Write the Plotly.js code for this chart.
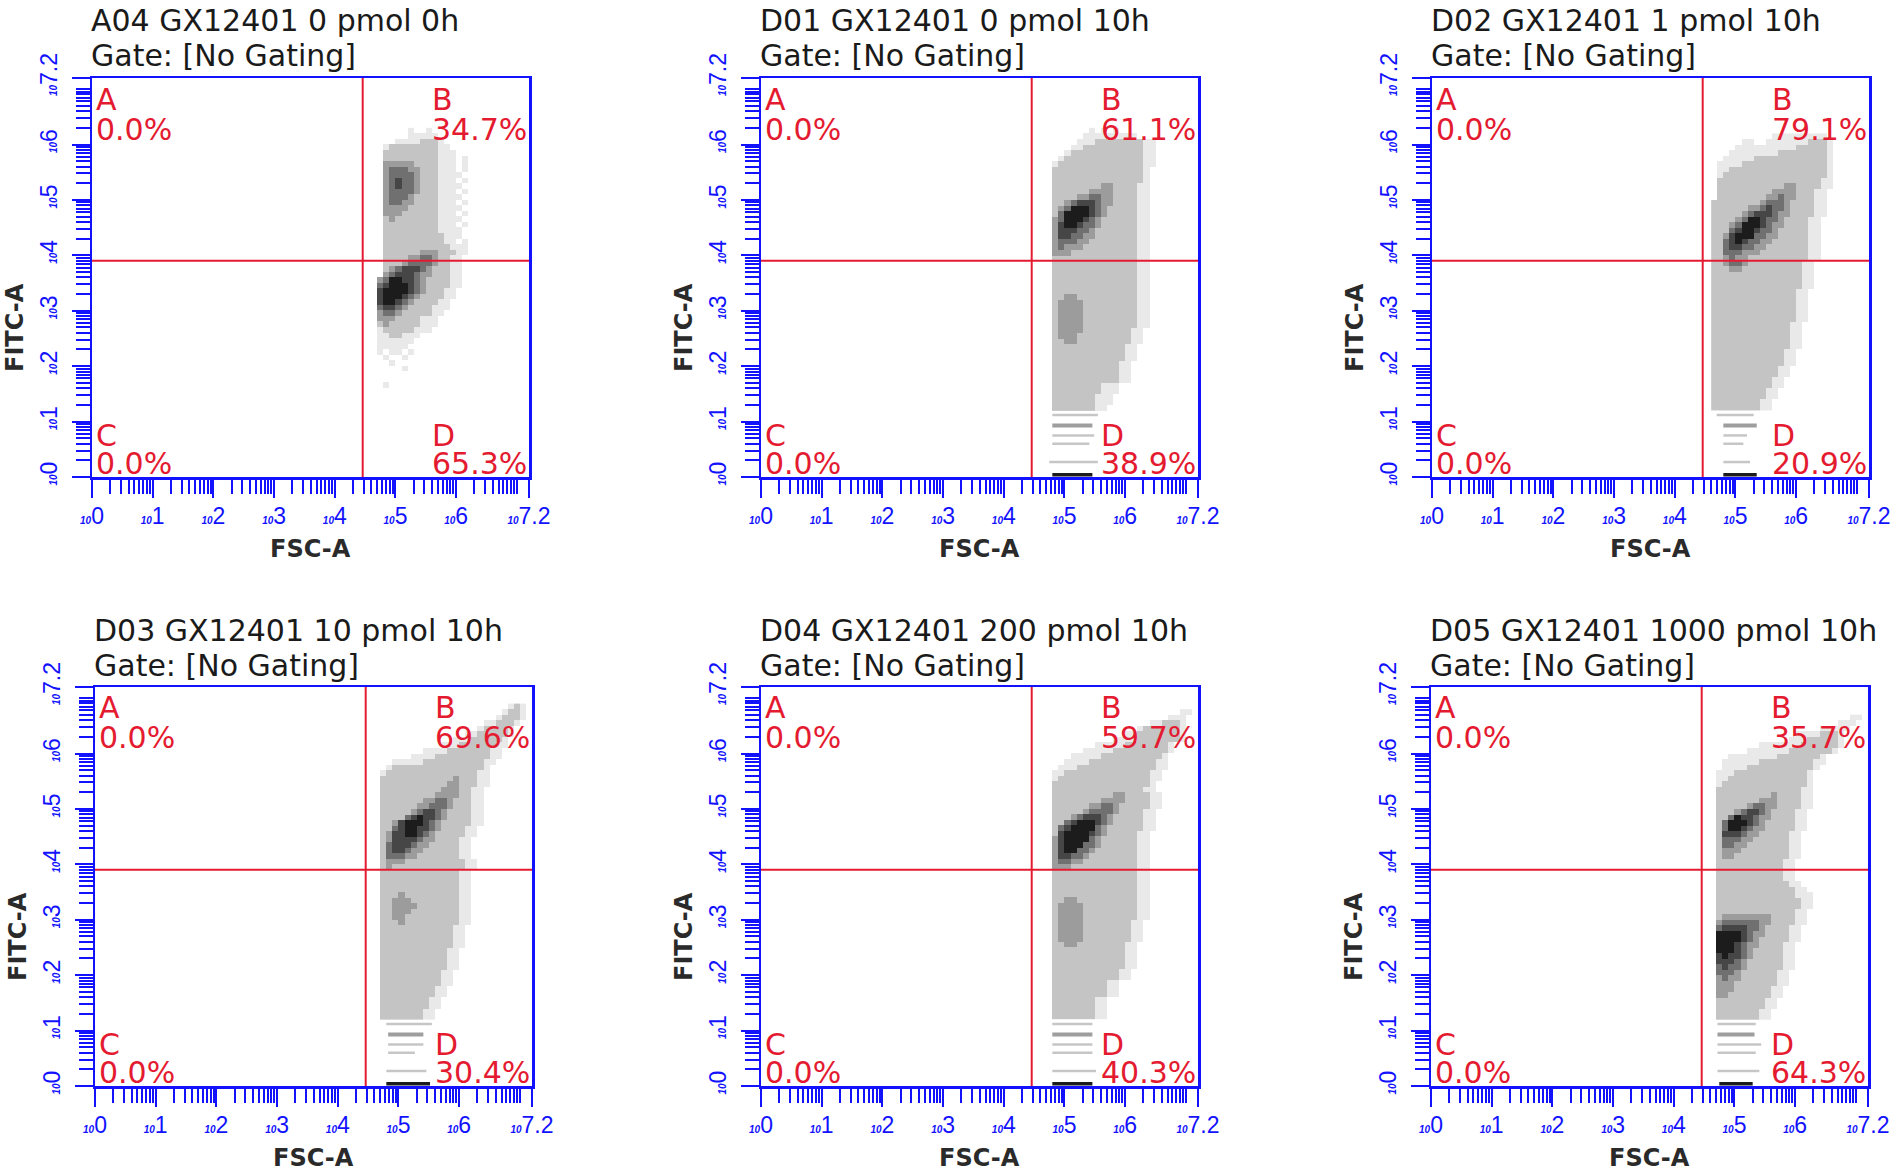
<!DOCTYPE html>
<html><head><meta charset="utf-8">
<script src="https://cdn.plot.ly/plotly-3.0.1.min.js"></script>
<style>html,body{margin:0;padding:0;background:#fff}#chart{width:1901px;height:1173px}</style>
</head><body><div id="chart"></div>
<script>
// ---------------- data ----------------
const sampleTitles = ["A04 GX12401 0 pmol 0h", "D01 GX12401 0 pmol 10h", "D02 GX12401 1 pmol 10h",
  "D03 GX12401 10 pmol 10h", "D04 GX12401 200 pmol 10h", "D05 GX12401 1000 pmol 10h"];
const gateText = "Gate: [No Gating]";
const quadLetters = ["A", "B", "C", "D"];
const pctA = [0.0, 0.0, 0.0, 0.0, 0.0, 0.0];
const pctB = [34.7, 61.1, 79.1, 69.6, 59.7, 35.7];
const pctC = [0.0, 0.0, 0.0, 0.0, 0.0, 0.0];
const pctD = [65.3, 38.9, 20.9, 30.4, 40.3, 64.3];
const gateFSC = [4.46, 4.46, 4.46, 4.46, 4.46, 4.46];   // log10 units
const gateFITC = [3.9, 3.9, 3.9, 3.9, 3.9, 3.9];        // log10 units
const tickExp = [0, 1, 2, 3, 4, 5, 6, 7.2];             // labelled ticks (log10)
const xTitle = "FSC-A";
const yTitle = "FITC-A";

// density grids: each string is one 0.1-decade FITC row (top to bottom),
// each digit one 0.1-decade FSC column starting at 10^4.6; 0 = no events, 1..6 = density level
const binLo = 4.6, binStep = 0.1, nCols = 26;
const densTops = [6.3, 6.3, 6.2, 6.9, 6.8, 6.7];
const densA04 = ["0000001001","00000011111","000011112221","0012222222211","00222222222111","0022222222211101",
"0033333222211101","0034443322211101","0034444322211110","0034544322211101","0034544322211110","0034444322211101",
"0034443222211110","0034433222211101","0033332222211110","0033322222211101","0023222222211110","0022222222211101",
"0022222222211110","0022222222221110","0022222222221101","0022222222222111","0022222233322211","002222334432211",
"002223444432211","002345554322211","003455543322211","034665543222211","045666543222211","05666654322211",
"05666543222211","0566543222211","0455432222111","034432222211","03332222111","02322222111","0122222111",
"0112211100","0111111","0111110","01011010","0010010","0001","000001","","","001"];
const densD01 = ["00000000101010","00000001111111110","0000001112222222211","0000011222222222211","0000122222222222211",
"0001222222222222211","0012222222222222211","002222222222222221","002222222222222221","002222222222222221",
"002222222233222211","002222223333222211","002222334433222211","002234555433222211","002346665432222211",
"002466665432222211","003466654322222211","003566544322222211","003555443222222211","003554433222222211",
"003444332222222211","003433322222222211","003332222222222211","002222222222222211","002222222222222211",
"002222222222222211","002222222222222211","002222222222222211","002222222222222211","002222222222222211",
"002233222222222211","002333322222222211","002333322222222211","002333322222222211","002333322222222211",
"002333322222222211","00233332222222211","00233322222222211","00223322222222211","0022222222222211",
"0022222222222211","0022222222222211","002222222222211","002222222222211","002222222222211","002222222222211",
"0022222222111","0022222222111","0022222221110","002222222111","00222222211"];
const densD02 = ["0000000000111111111","00000110011111112221","00001111111111222221","00011111111222222221",
"00111112222222222221","01111222222222222221","01122222222222222221","01222222222222222221","02222222222222222211",
"02222222222233222211","0222222222333322211","0222222223343322211","2222222234443222211","2222223345443222211",
"2222234555433222211","222234665443222211","222346665433222211","222456654432222211","223566644332222211",
"224565443322222211","224554433222222211","224443332222222211","223433222222222211","22344322222222211",
"22233222222222211","22222222222222211","22222222222222211","22222222222222211","2222222222222211",
"2222222222222211","2222222222222211","2222222222222211","2222222222222211","2222222222222211",
"222222222222211","222222222222211","222222222222211","222222222222211","222222222222211",
"22222222222211","22222222222211","22222222222211","2222222222211","2222222222211","222222222211",
"222222222211","22222222211","22222222211","2222222211","2222222211"];
const densD03 = ["0000000000000000000000121","0000000000000000000001221","0000000000000000000012221",
"0000000000000000001122210","0000000000000000012222100","0000000000000001122222100","0000000000000111222221000",
"0000000000011122222211000","0000000011112222222110000","0000001111222222222110000","0001111122222222221100000",
"0012222222222222221000000","0122222222222222211000000","0222222222222322211","0222222222223322211",
"022222222223332211","022222222233332211","022222223344322211","022222233444322211","022222345543222211",
"022224565543222211","022356665432222211","02245665543222211","02355665432222211","0235555433222211",
"0245554332222211","0245543322222211","0244433222222211","02333222222222211","02322222222222211",
"0222222222222211","0222222222222211","0222222222222211","0222222222222211","0222322222222211",
"0223332222222211","0223333222222211","0223332222222211","0223322222222211","0222322222222211",
"022222222222211","022222222222211","022222222222211","022222222222211","02222222222211","02222222222211",
"02222222222211","02222222222211","0222222222211","0222222222211","0222222222211","022222222211",
"022222222211","02222222211","02222222211","0222222211","0222222211"];
const densD04 = ["0000000000000000000000011","0000000000000000000001110","0000000000000000001122210",
"0000000000000000122222210","0000000000000011222222210","0000000000001111222222210","0000000001111122222221000",
"0000000111112222222221000","0000011111222222222210000","0000111122222222222110000","0001112222222222222110000",
"0011222222222222221100000","0012222222222222221100000","0022222222222222221000000","0022222222222222211000000",
"00222222222233222211","00222222223333222211","00222222334432222211","0022222344443222211","0022234555432222211",
"0022456665432222211","0024566664322222211","002566665432222211","003566664322222211","003566644322222211",
"003566443222222211","003554432222222211","003443322222222211","003332222222222211","002222222222222211",
"002222222222222211","002222222222222211","002222222222222211","002222222222222211","002233222222222211",
"002333322222222211","002333322222222211","002333322222222211","00233332222222211","00233332222222211",
"00233332222222211","00233332222222211","0022332222222211","0022222222222211","0022222222222211",
"0022222222222211","0022222222222211","002222222222211","002222222222211","0022222222211","0022222222211",
"0022222222211","00222222211","00222222211","00222222211","00222222211"];
const densD05 = ["0000000000000000000000011","0000000000000000000001110","0000000000000000001111100",
"00000000000000111122210","00000000000001112222210","00000000111111122222210","00000011111112222222100",
"000111111112222222100","0011111122222222211","001111222222222221","01112222222222221","01122222222222221",
"01222222222222221","02222222222222211","02222222223222211","02222222333222211","02222234433222211",
"0222345543222211","0224655433222211","0246665432222211","0246654332222211","025554332222211",
"024443322222211","024433222222211","023332222222211","023322222222211","02222222222211","02222222222211",
"02222222222211","02222222222211","022222222222211","0222222222222211","02222222222222111","02222222222222211",
"02222222222222211","0222222222222211","0233333333222211","0344444433222211","045555443222211",
"066665433222211","066665432222211","06665433222211","06665432222211","05655432222211","05554322222211",
"04544322222211","0444322222211","0343322222211","0333222222211","033322222211","033222222211",
"02222222211","02222222211","0222222211","0222222211"];
const densSets = [densA04, densD01, densD02, densD03, densD04, densD05];

// discrete low-FITC event streaks (log10 units)
const streakY = [1.12, 0.93, 0.75, 0.60, 0.27, 0.04];
const streakShade = [2, 3, 2, 2, 2, 6];
const streakX0 = [[], [4.80,4.80,4.80,4.80,4.75,4.80], [4.69,4.80,4.80,4.80,4.80,4.80],
  [4.80,4.83,4.83,4.83,4.80,4.80], [4.80,4.80,4.80,4.80,4.80,4.80], [4.72,4.72,4.72,4.72,4.72,4.75]];
const streakX1 = [[], [5.55,5.46,5.49,5.41,5.55,5.46], [5.30,5.35,5.19,5.13,5.24,5.35],
  [5.55,5.41,5.41,5.27,5.46,5.52], [5.46,5.46,5.46,5.46,5.52,5.46], [5.35,5.33,5.44,5.35,5.41,5.30]];

// ---------------- style / layout ----------------
const W = 1901, H = 1173;
const BLUE = '#1212ff', RED = '#e41b30', TXT = '#1a1a1a';
const levelColors = ['#e9e9e9', '#c4c4c4', '#9c9c9c', '#707070', '#464646', '#1c1c1c'];
const streakColor = {2: '#c6c6c6', 3: '#9e9e9e', 6: '#1c1c1c'};
const streakWidth = {2: 2.5, 3: 4, 6: 3.5};
const panelLeftPx = [92, 761, 1432, 95, 761, 1431];
const panelTopPx = [78, 78, 78, 687, 687, 687];
const PW = 437, PH = 399;
const px2x = p => p / W;
const px2y = p => 1 - p / H;

const colorscale = [];
levelColors.forEach((c, k) => { colorscale.push([k / 6, c]); colorscale.push([(k + 1) / 6, c]); });

const tickText = tickExp.map(e => '<span style="font-size:10px;font-weight:bold;font-style:italic">10</span>' + e);
const minorVals = [];
for (let n = 0; n < 8; n++) for (let k = 1; k <= 9; k++) {
  const v = n + Math.log10(k);
  if (v < 7.2 && !tickExp.includes(v)) minorVals.push(v);
}

function axisCfg(domain, isX, anchor) {
  return {
    domain: domain, anchor: anchor, range: [0, 7.2], type: 'linear', fixedrange: true,
    showgrid: false, zeroline: false,
    showline: true, linecolor: BLUE, linewidth: 2.5, mirror: true,
    ticks: 'outside', ticklen: 18, tickwidth: 2, tickcolor: BLUE,
    tickmode: 'array', tickvals: tickExp, ticktext: tickText,
    tickfont: {family: 'Liberation Sans, Arial, sans-serif', size: 23, color: BLUE},
    tickangle: isX ? 0 : -90,
    ticklabelstandoff: isX ? -1 : 5,
    minor: {ticks: 'outside', ticklen: 14, tickwidth: 2, tickcolor: BLUE,
            tickmode: 'array', tickvals: minorVals, showgrid: false}
  };
}

const data = [];
const layout = {width: W, height: H, margin: {l: 0, r: 0, t: 0, b: 0},
  paper_bgcolor: '#ffffff', plot_bgcolor: '#ffffff', showlegend: false,
  annotations: [], shapes: []};

const xCenters = [];
for (let c = 0; c < nCols; c++) xCenters.push(+(binLo + binStep * (c + 0.5)).toFixed(3));

function ann(text, xpx, ypx, opts) {
  return Object.assign({text: text, x: px2x(xpx), y: px2y(ypx), xref: 'paper', yref: 'paper',
    showarrow: false, xanchor: 'left', yanchor: 'middle'}, opts);
}

for (let i = 0; i < 6; i++) {
  const sfx = i === 0 ? '' : String(i + 1);
  const xa = 'x' + sfx, ya = 'y' + sfx;
  const L = panelLeftPx[i], T = panelTopPx[i], B = T + PH, R = L + PW;
  layout['xaxis' + sfx] = axisCfg([px2x(L), px2x(R)], true, ya);
  layout['yaxis' + sfx] = axisCfg([px2y(B), px2y(T)], false, xa);

  // density heatmap
  const rows = densSets[i];
  const z = [], y = [];
  rows.forEach((s, r) => {
    const row = [];
    for (let c = 0; c < nCols; c++) { const v = c < s.length ? +s[c] : 0; row.push(v > 0 ? v : null); }
    z.push(row);
    y.push(+(densTops[i] - binStep * (r + 0.5)).toFixed(3));
  });
  z.reverse(); y.reverse();
  data.push({type: 'heatmap', x: xCenters, y: y, z: z, xaxis: xa, yaxis: ya,
    zmin: 0.5, zmax: 6.5, colorscale: colorscale, showscale: false, hoverinfo: 'skip', zsmooth: false});

  // streaks
  for (let s = 0; s < streakX0[i].length; s++) {
    const sh = streakShade[s];
    data.push({type: 'scatter', mode: 'lines', x: [streakX0[i][s], streakX1[i][s]], y: [streakY[s], streakY[s]],
      xaxis: xa, yaxis: ya, line: {color: streakColor[sh], width: streakWidth[sh]}, hoverinfo: 'skip'});
  }

  // quadrant gates
  layout.shapes.push({type: 'line', xref: xa, yref: ya + ' domain', x0: gateFSC[i], x1: gateFSC[i], y0: 0, y1: 1,
    line: {color: RED, width: 2}, layer: 'above'});
  layout.shapes.push({type: 'line', xref: xa + ' domain', yref: ya, x0: 0, x1: 1, y0: gateFITC[i], y1: gateFITC[i],
    line: {color: RED, width: 2}, layer: 'above'});

  // titles
  const tFont = {family: 'DejaVu Sans, sans-serif', size: 30, color: TXT};
  layout.annotations.push(ann(sampleTitles[i], L - 3, T - 57, {font: tFont}));
  layout.annotations.push(ann(gateText, L - 3, T - 22, {font: tFont}));

  // quadrant labels
  const qFont = {family: 'DejaVu Sans, sans-serif', size: 30, color: RED};
  const xl = L + 2, xr = L + 338;
  const fmt = v => v.toFixed(1) + '%';
  layout.annotations.push(ann(quadLetters[0], xl, T + 21, {font: qFont}));
  layout.annotations.push(ann(fmt(pctA[i]), xl, T + 51, {font: qFont}));
  layout.annotations.push(ann(quadLetters[1], xr, T + 21, {font: qFont}));
  layout.annotations.push(ann(fmt(pctB[i]), xr, T + 51, {font: qFont}));
  layout.annotations.push(ann(quadLetters[2], xl, B - 42, {font: qFont}));
  layout.annotations.push(ann(fmt(pctC[i]), xl, B - 14, {font: qFont}));
  layout.annotations.push(ann(quadLetters[3], xr, B - 42, {font: qFont}));
  layout.annotations.push(ann(fmt(pctD[i]), xr, B - 14, {font: qFont}));

  // axis titles
  const aFont = {family: 'DejaVu Sans, sans-serif', size: 24, color: '#2a2a2a', weight: 'bold'};
  layout.annotations.push(ann(xTitle, L + PW / 2, B + 72, {font: aFont, xanchor: 'center'}));
  layout.annotations.push(ann(yTitle, L - 77, T + 250, {font: aFont, xanchor: 'center', textangle: -90}));
}

Plotly.newPlot('chart', data, layout, {staticPlot: true, displayModeBar: false});
</script>
</body></html>
